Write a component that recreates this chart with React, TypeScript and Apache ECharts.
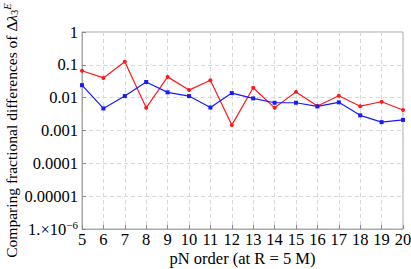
import React, { useEffect, useRef } from "react";
import * as echarts from "echarts";

const pnOrders = [5, 6, 7, 8, 9, 10, 11, 12, 13, 14, 15, 16, 17, 18, 19, 20];
const redValues = [0.066, 0.04, 0.124, 0.0049, 0.043, 0.017, 0.034, 0.00146, 0.02, 0.0049, 0.015, 0.0056, 0.0114, 0.0055, 0.0075, 0.0042];
const blueValues = [0.024, 0.0047, 0.0112, 0.03, 0.0145, 0.0112, 0.005, 0.0138, 0.0095, 0.007, 0.007, 0.0054, 0.0072, 0.0029, 0.0018, 0.0021];
const yTickLabels: Record<string, string> = {
  "0": "1",
  "-1": "0.1",
  "-2": "0.01",
  "-3": "0.001",
  "-4": "0.0001",
  "-5": "0.00001",
  "-6": "{a|1.×10}{s|−6}",
};

const FONT = "Liberation Serif";
const FS = 16.5;
const NFS = 15.5;

export default function App() {
  const ref = useRef<HTMLDivElement>(null);
  useEffect(() => {
    document.body.style.margin = "0";
    const chart = echarts.init(ref.current!, null, { renderer: "svg" });
    chart.setOption({
      animation: false,
      grid: {
        left: 82,
        right: 8,
        top: 32,
        bottom: 40,
        outerBoundsMode: "none",
        containLabel: false,
        show: true,
        borderColor: "#a8a8a8",
        borderWidth: 1,
        backgroundColor: "transparent",
      },
      xAxis: {
        type: "value",
        min: 5,
        max: 20,
        interval: 1,
        name: "pN order (at R = 5 M)",
        nameLocation: "middle",
        nameGap: 21,
        nameMoveOverlap: false,
        nameTextStyle: { fontFamily: FONT, fontSize: FS, color: "#000", verticalAlign: "top" },
        axisLine: { show: true, lineStyle: { color: "#a8a8a8" } },
        axisTick: { show: true, inside: true, length: 4, lineStyle: { color: "#888" } },
        axisLabel: { fontFamily: FONT, fontSize: FS, color: "#000", margin: 2 },
        splitLine: { show: true, lineStyle: { color: "#d8d8d8", type: [4, 3] } },
      },
      yAxis: {
        type: "log",
        logBase: 10,
        min: 1e-6,
        max: 1,
        name: "Comparing fractional differences of Δ{l|λ}{sub|3}{sup|E}",
        nameLocation: "middle",
        nameGap: 62,
        nameMoveOverlap: false,
        nameTextStyle: {
          fontFamily: FONT,
          fontSize: NFS,
          color: "#000",
          rich: {
            l: { fontFamily: FONT, fontSize: NFS, fontStyle: "italic", color: "#000" },
            sub: { fontFamily: FONT, fontSize: 10.5, color: "#000", verticalAlign: "bottom", padding: [7, 0, 0, 0] },
            sup: { fontFamily: FONT, fontSize: 10.5, fontStyle: "italic", color: "#000", verticalAlign: "top", padding: [0, 0, 7, 0] },
          },
        },
        axisLine: { show: true, lineStyle: { color: "#a8a8a8" } },
        axisTick: { show: true, inside: true, length: 4, lineStyle: { color: "#888" } },
        minorTick: { show: false },
        axisLabel: {
          fontFamily: FONT,
          fontSize: FS,
          color: "#000",
          margin: 4,
          formatter: (v: number) => yTickLabels[String(Math.round(Math.log10(v)))] ?? "",
          rich: {
            a: { fontFamily: FONT, fontSize: FS, color: "#000" },
            s: { fontFamily: FONT, fontSize: 11, color: "#000", verticalAlign: "top", padding: [0, 0, 9, 0] },
          },
        },
        splitLine: { show: true, lineStyle: { color: "#d8d8d8", type: [4, 3] } },
      },
      series: [
        {
          type: "line",
          data: pnOrders.map((x, i) => [x, redValues[i]]),
          symbol: "circle",
          symbolSize: 4,
          itemStyle: { color: "#ff1a1a" },
          lineStyle: { color: "#ff1a1a", width: 1.2 },
        },
        {
          type: "line",
          data: pnOrders.map((x, i) => [x, blueValues[i]]),
          symbol: "rect",
          symbolSize: 4,
          itemStyle: { color: "#1a1aff" },
          lineStyle: { color: "#1a1aff", width: 1.2 },
        },
      ],
    });
    return () => chart.dispose();
  }, []);
  return <div ref={ref} style={{ width: 411, height: 269 }} />;
}
